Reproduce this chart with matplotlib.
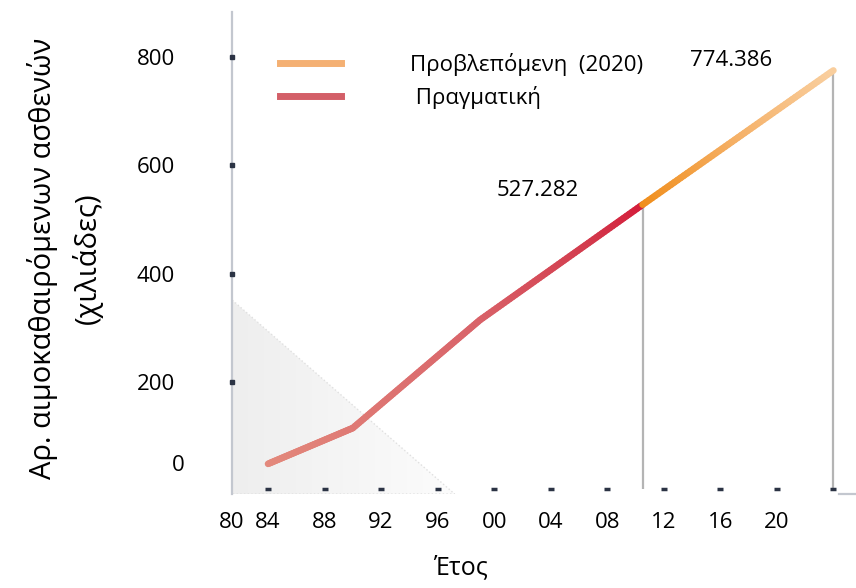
import numpy as np
import matplotlib.pyplot as plt
from matplotlib.collections import LineCollection
from matplotlib.colors import LinearSegmentedColormap
from matplotlib.lines import Line2D
from matplotlib.patches import Polygon
from matplotlib.transforms import ScaledTranslation

plt.rcParams['font.family'] = ['Open Sans', 'DejaVu Sans']

# πραγματικά στοιχεία (χιλιάδες ασθενών)
years_real = [1984, 1990, 1999, 2010.5]
patients_real = [50, 116, 315, 527.282]

# προβλεπόμενη εξέλιξη
years_pred = [2010.5, 2024]
patients_pred = [527.282, 774.386]

xtick_years = [1984, 1988, 1992, 1996, 2000, 2004, 2008, 2012, 2016, 2020, 2024]
xtick_labels = ['84', '88', '92', '96', '00', '04', '08', '12', '16', '20', '']
yticks = [0, 200, 400, 600, 800]

xmin, xmax = 1981.45, 2025.6
ymin, ymax = -5.5, 882

fig = plt.figure(figsize=(8.56, 5.88), dpi=100)
ax = fig.add_axes([232 / 856, 94 / 588, 624 / 856, 482 / 588])
ax.set_xlim(xmin, xmax)
ax.set_ylim(ymin, ymax)


def gradient_line(x, y, colors, lw, n=60):
    # χρωματική διαβάθμιση κατά μήκος της γραμμής
    xs, ys = [], []
    for i in range(len(x) - 1):
        t = np.linspace(0, 1, n, endpoint=False)
        xs.append(x[i] + (x[i + 1] - x[i]) * t)
        ys.append(y[i] + (y[i + 1] - y[i]) * t)
    xs = np.concatenate(xs + [[x[-1]]])
    ys = np.concatenate(ys + [[y[-1]]])
    pts = np.column_stack([xs, ys]).reshape(-1, 1, 2)
    segs = np.concatenate([pts[:-1], pts[1:]], axis=1)
    cmap = LinearSegmentedColormap.from_list('g', colors)
    pos = (xs[:-1] - x[0]) / (x[-1] - x[0])
    lc = LineCollection(segs, colors=cmap(pos), linewidths=lw,
                        capstyle='round', joinstyle='round', zorder=4)
    ax.add_collection(lc)


# γκρι σκίαση κάτω αριστερά
tri = Polygon([(xmin, 352), (xmin, ymin), (1997.2, ymin)], closed=True,
              facecolor='none', edgecolor='#e0e0e0', linestyle=':', lw=1, zorder=1)
ax.add_patch(tri)
grad = np.linspace(0, 1, 256).reshape(1, -1)
img = ax.imshow(grad, extent=[xmin, 1997.2, ymin, 352], aspect='auto',
                cmap=LinearSegmentedColormap.from_list('s', ['#eeeeee', '#fcfcfc']),
                zorder=0)
img.set_clip_path(tri)

# κάθετες γραμμές
ax.vlines([years_real[-1], years_pred[-1]], 4, [patients_real[-1], patients_pred[-1]],
          color='#b4b4b4', lw=1.6, zorder=2)

gradient_line(years_real, patients_real,
              [(0, '#e3897c'), (0.55, '#d9646a'), (0.85, '#d33c4e'), (1, '#d41d3b')], 4.8)
gradient_line(years_pred, patients_pred,
              [(0, '#f08e1c'), (0.5, '#f5b168'), (1, '#f9cf9f')], 4.8)

ax.annotate(f'{patients_real[-1]:.3f}', (years_real[-1], patients_real[-1]),
            xytext=(-105, 14), textcoords='offset pixels', ha='center', va='center',
            fontsize=16)
ax.annotate(f'{patients_pred[-1]:.3f}', (years_pred[-1], patients_pred[-1]),
            xytext=(-102, 10), textcoords='offset pixels', ha='center', va='center',
            fontsize=16)

# άξονες
for s in ['top', 'right']:
    ax.spines[s].set_visible(False)
ax.spines['left'].set_color('#c3c7cf')
ax.spines['left'].set_linewidth(1.6)
ax.spines['bottom'].set_color('#c3c7cf')
ax.spines['bottom'].set_linewidth(1.6)
ax.spines['bottom'].set_bounds(2024.4, xmax)

ax.set_yticks(yticks)
ax.set_yticklabels([str(v) for v in yticks], fontsize=16)
ax.tick_params(axis='y', length=0, pad=41)
lbl0 = ax.get_yticklabels()[0]
lbl0.set_transform(lbl0.get_transform() + ScaledTranslation(7 / 72, 20 / 72, fig.dpi_scale_trans))
ax.plot([xmin] * 4, yticks[1:], ls='none', marker='s', ms=3.5, color='#2b3344',
        clip_on=False, zorder=3)

ax.set_xticks([xmin] + xtick_years)
ax.set_xticklabels(['80'] + xtick_labels, fontsize=16)
ax.tick_params(axis='x', length=0, pad=13)
ax.plot(xtick_years, [4] * len(xtick_years), ls='none', marker='_', ms=5, mew=2.5,
        color='#2b3344', clip_on=False, zorder=3)

ax.set_xlabel('Έτος', fontsize=18)
ax.xaxis.label.set_verticalalignment('center')
ax.xaxis.set_label_coords((460 - 232) / 624, (494 - 568) / 482)
ax.set_ylabel('Αρ. αιμοκαθαιρόμενων ασθενών\n(χιλιάδες)', fontsize=21, linespacing=1.55)
ax.yaxis.label.set_verticalalignment('center')
ax.yaxis.set_label_coords((65 - 232) / 624, (494 - 258) / 482)

handles = [Line2D([], [], color='#f4b073', lw=5),
           Line2D([], [], color='#d35f68', lw=5)]
ax.legend(handles, ['Προβλεπόμενη  (2020)', ' Πραγματική'], loc='upper left',
          bbox_to_anchor=(280 / 856, 1 - 53 / 588), bbox_transform=fig.transFigure,
          frameon=False, fontsize=16, handlelength=2.75, handletextpad=3.1,
          labelspacing=0.45, borderpad=0, borderaxespad=0)

fig.savefig('out.png', dpi=100)
